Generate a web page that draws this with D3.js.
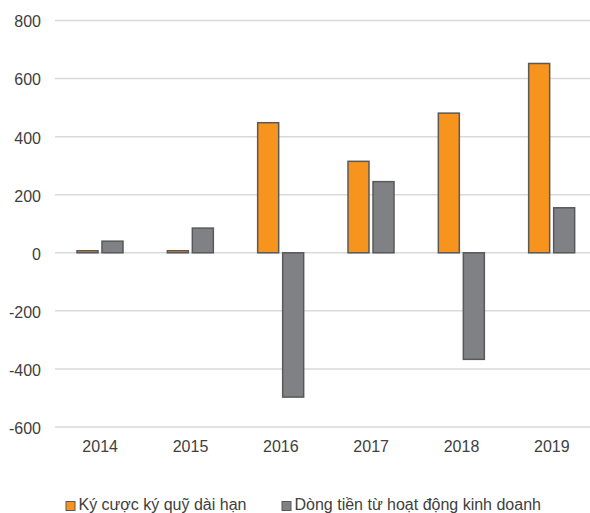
<!DOCTYPE html>
<html>
<head>
<meta charset="utf-8">
<script src="https://cdn.jsdelivr.net/npm/d3@7"></script>
<style>
  html, body { margin: 0; padding: 0; background: #fff; }
  svg { display: block; font-family: "Liberation Sans", Arial, sans-serif; }
</style>
</head>
<body>
<svg id="chart" width="590" height="513"></svg>
<script>
// Years on the horizontal axis
const years = ["2014", "2015", "2016", "2017", "2018", "2019"];
// Series names (legend)
const seriesNames = ["Ký cược ký quỹ dài hạn", "Dòng tiền từ hoạt động kinh doanh"];
// Long-term deposits
const deposits = [7, 7, 448, 315, 481, 652];
// Operating cash flow
const operatingCash = [40, 85, -497, 245, -367, 155];
// Y axis ticks
const yTicks = [-600, -400, -200, 0, 200, 400, 600, 800];

const series = [deposits, operatingCash];
const colors = ["#F7941D", "#808184"];
const labelColor = "#404040";

const svg = d3.select("#chart");

const x = d3.scaleBand().domain(years).range([55, 597]).paddingInner(0).paddingOuter(0);
const inner = d3.scaleBand().domain([0, 1]).range([22, 68]).paddingInner(0.16);
const y = d3.scaleLinear().domain([-600, 800]).range([427, 20.5]);

// gridlines
svg.append("g")
  .selectAll("line")
  .data(yTicks)
  .join("line")
  .attr("x1", 55).attr("x2", 597)
  .attr("y1", d => y(d)).attr("y2", d => y(d))
  .attr("stroke", "#d9d9d9")
  .attr("stroke-width", 1.5);

// y axis labels (plain hyphen for negatives)
const yAxis = d3.axisLeft(y).tickValues(yTicks).tickSize(0).tickPadding(0)
  .tickFormat(d => String(d));
const gy = svg.append("g").attr("transform", "translate(41,0)").call(yAxis);
gy.select(".domain").remove();
gy.selectAll("text")
  .attr("fill", labelColor)
  .attr("dy", "0.4em")
  .style("font-size", "16px")
  .style("font-family", "Liberation Sans, Arial, sans-serif");

// x axis labels
const xAxis = d3.axisBottom(x).tickSize(0).tickPadding(0);
const gx = svg.append("g").attr("transform", "translate(0,452)").call(xAxis);
gx.select(".domain").remove();
gx.selectAll("text")
  .attr("fill", labelColor)
  .attr("y", 0).attr("dy", 0)
  .style("font-size", "16px")
  .style("font-family", "Liberation Sans, Arial, sans-serif");

// bars
series.forEach((vals, si) => {
  svg.append("g")
    .selectAll("rect")
    .data(vals)
    .join("rect")
    .attr("x", (d, i) => x(years[i]) + inner(si))
    .attr("width", inner.bandwidth())
    .attr("y", d => y(Math.max(0, d)))
    .attr("height", d => Math.abs(y(d) - y(0)))
    .attr("fill", colors[si])
    .attr("stroke", "#595959")
    .attr("stroke-width", 1.5);
});

// legend
const legendX = [66, 282];
const legend = svg.append("g");
seriesNames.forEach((name, i) => {
  legend.append("rect")
    .attr("x", legendX[i]).attr("y", 501.5)
    .attr("width", 9).attr("height", 9)
    .attr("fill", colors[i])
    .attr("stroke", "#595959").attr("stroke-width", 1);
  legend.append("text")
    .attr("x", legendX[i] + 12.5).attr("y", 509.5)
    .attr("fill", labelColor)
    .style("font-size", "16px")
    .text(name);
});
</script>
</body>
</html>
